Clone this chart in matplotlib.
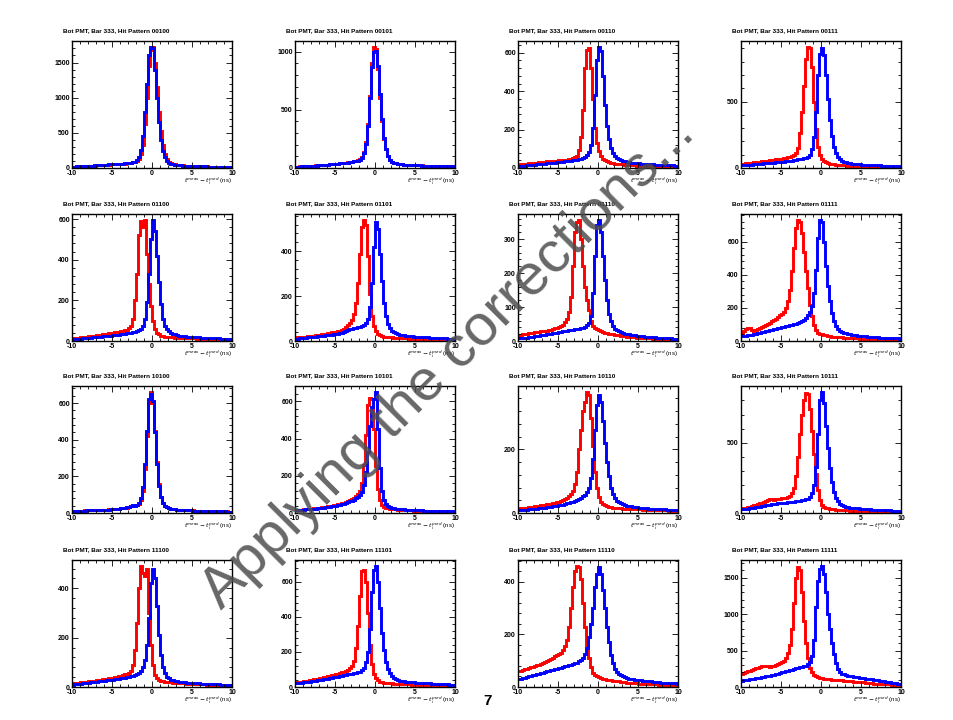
import numpy as np
import matplotlib
matplotlib.use("Agg")
import matplotlib.pyplot as plt
from matplotlib.ticker import MultipleLocator, AutoMinorLocator, FixedLocator

# t_meas - t_pred histograms, 0.25 ns bins from -10 to 10 ns (80 bins)
# red: before the correction, blue: after it
patterns = ["00100", "00101", "00110", "00111",
            "01100", "01101", "01110", "01111",
            "10100", "10101", "10110", "10111",
            "11100", "11101", "11110", "11111"]

yticks = [[0, 500, 1000, 1500], [0, 500, 1000], [0, 200, 400, 600], [0, 500],
          [0, 200, 400, 600], [0, 200, 400], [0, 100, 200, 300], [0, 200, 400, 600],
          [0, 200, 400, 600], [0, 200, 400, 600], [0, 200, 400], [0, 500],
          [0, 200, 400], [0, 200, 400, 600], [0, 200, 400], [0, 500, 1000, 1500]]

red_00100 = [19, 21, 22, 23, 24, 26, 27, 29, 30, 33, 34, 35, 37, 39, 40, 43, 45, 47, 48, 50,
             51, 53, 55, 56, 58, 60, 63, 66, 70, 74, 80, 88, 100, 130, 200, 330, 620, 1000, 1450, 1680,
             1720, 1500, 1150, 800, 520, 330, 200, 130, 90, 70, 58, 50, 46, 42, 39, 36, 34, 32, 30, 29,
             28, 27, 26, 25, 25, 24, 23, 22, 21, 21, 20, 19, 19, 18, 17, 17, 16, 16, 15, 15]
blue_00100 = [19, 20, 22, 24, 25, 27, 28, 30, 32, 33, 35, 37, 38, 40, 42, 44, 46, 48, 50, 52,
              53, 55, 57, 59, 61, 63, 66, 69, 73, 78, 84, 92, 110, 150, 260, 450, 800, 1200, 1600, 1720,
              1700, 1400, 1000, 650, 400, 240, 150, 100, 75, 62, 54, 48, 44, 40, 37, 35, 33, 31, 29, 28,
              27, 26, 25, 24, 23, 23, 22, 21, 20, 20, 19, 18, 18, 17, 17, 16, 15, 15, 14, 14]

red_00101 = [11, 12, 13, 14, 15, 16, 17, 18, 19, 21, 22, 23, 24, 26, 27, 29, 30, 32, 34, 36,
             37, 38, 40, 42, 44, 46, 49, 52, 55, 58, 62, 66, 75, 95, 140, 220, 380, 620, 900, 1040,
             1020, 850, 600, 400, 250, 160, 100, 70, 52, 45, 40, 37, 34, 32, 30, 28, 27, 26, 25, 24,
             24, 23, 23, 22, 21, 21, 20, 19, 19, 18, 17, 17, 16, 16, 15, 15, 14, 14, 13, 13]
blue_00101 = [10, 11, 12, 13, 14, 15, 16, 17, 18, 20, 21, 22, 24, 25, 27, 28, 30, 31, 33, 35,
              36, 37, 39, 41, 43, 45, 47, 50, 53, 56, 60, 64, 72, 90, 130, 210, 360, 600, 870, 1000,
              1010, 880, 640, 420, 260, 160, 100, 70, 52, 44, 39, 36, 33, 31, 29, 28, 27, 26, 25, 24,
              23, 22, 22, 21, 20, 20, 19, 18, 18, 17, 17, 16, 16, 15, 15, 14, 14, 13, 13, 12]

red_00110 = [18, 19, 20, 21, 23, 24, 25, 26, 27, 28, 30, 31, 32, 33, 34, 35, 36, 37, 38, 39,
             40, 41, 42, 43, 44, 46, 48, 50, 55, 65, 95, 160, 300, 520, 615, 625, 520, 360, 210, 130,
             90, 65, 48, 40, 34, 30, 27, 25, 23, 22, 21, 20, 19, 18, 17, 16, 15, 14, 14, 13,
             13, 12, 12, 12, 11, 11, 11, 10, 10, 10, 10, 9, 9, 9, 9, 8, 8, 8, 8, 8]
blue_00110 = [10, 11, 12, 13, 14, 15, 16, 17, 18, 19, 20, 21, 22, 23, 24, 25, 26, 27, 28, 29,
              30, 31, 32, 34, 35, 37, 38, 40, 42, 44, 46, 48, 52, 58, 66, 85, 120, 210, 380, 560,
              630, 610, 480, 330, 220, 150, 105, 78, 62, 54, 48, 43, 38, 35, 32, 30, 28, 27, 26, 25,
              24, 23, 22, 21, 21, 20, 19, 19, 18, 18, 17, 17, 16, 16, 15, 15, 14, 14, 13, 13]

red_00111 = [30, 32, 34, 36, 38, 40, 42, 44, 46, 48, 50, 52, 54, 56, 58, 60, 62, 64, 66, 68,
             71, 74, 77, 80, 84, 88, 95, 110, 150, 260, 420, 620, 820, 910, 900, 760, 500, 290, 160, 100,
             70, 52, 42, 36, 32, 29, 27, 25, 23, 22, 21, 20, 19, 18, 17, 16, 15, 14, 14, 13,
             13, 12, 12, 12, 11, 11, 11, 10, 10, 10, 10, 9, 9, 9, 9, 8, 8, 8, 8, 8]
blue_00111 = [20, 21, 22, 24, 25, 26, 28, 29, 30, 32, 33, 34, 36, 37, 38, 40, 41, 42, 44, 45,
              46, 48, 50, 52, 54, 56, 58, 61, 64, 67, 70, 73, 78, 85, 100, 140, 230, 420, 700, 860,
              905, 850, 700, 520, 360, 240, 160, 115, 85, 68, 56, 48, 43, 39, 36, 33, 31, 29, 28, 27,
              26, 25, 24, 23, 22, 22, 21, 20, 20, 19, 18, 18, 17, 17, 16, 16, 15, 15, 14, 14]

red_01100 = [14, 15, 16, 17, 18, 19, 20, 22, 23, 24, 26, 27, 28, 30, 31, 33, 34, 36, 37, 39,
             40, 42, 44, 46, 48, 50, 53, 56, 62, 75, 110, 200, 330, 520, 590, 560, 595, 430, 280, 170,
             100, 60, 40, 32, 27, 24, 22, 21, 20, 19, 18, 17, 17, 16, 16, 15, 15, 14, 14, 13,
             13, 13, 12, 12, 12, 11, 11, 11, 10, 10, 10, 10, 9, 9, 9, 9, 9, 8, 8, 8]
blue_01100 = [8, 9, 10, 11, 12, 13, 14, 15, 16, 17, 18, 19, 20, 21, 22, 23, 24, 25, 26, 27,
              28, 29, 30, 31, 32, 34, 35, 37, 38, 40, 42, 44, 47, 52, 60, 75, 110, 190, 330, 500,
              595, 540, 420, 290, 180, 110, 75, 58, 48, 41, 36, 32, 29, 27, 25, 24, 23, 22, 21, 20,
              19, 19, 18, 18, 17, 17, 16, 16, 15, 15, 14, 14, 13, 13, 12, 12, 12, 11, 11, 11]

red_01101 = [15, 16, 17, 18, 19, 20, 21, 22, 23, 24, 26, 27, 28, 30, 31, 33, 34, 36, 38, 39,
             41, 43, 46, 50, 55, 62, 70, 80, 95, 120, 170, 260, 390, 510, 540, 520, 380, 210, 110, 65,
             45, 32, 26, 22, 20, 19, 18, 17, 16, 15, 15, 14, 14, 13, 13, 12, 12, 11, 11, 11,
             10, 10, 10, 10, 9, 9, 9, 9, 8, 8, 8, 8, 8, 7, 7, 7, 7, 7, 7, 7]
blue_01101 = [10, 11, 12, 13, 14, 15, 16, 17, 18, 19, 20, 21, 22, 23, 24, 25, 26, 27, 28, 30,
              31, 33, 35, 37, 40, 44, 48, 52, 54, 56, 58, 61, 64, 68, 72, 80, 100, 150, 260, 420,
              530, 500, 390, 270, 170, 110, 75, 58, 45, 38, 34, 31, 28, 26, 25, 24, 23, 22, 21, 20,
              19, 18, 18, 17, 17, 16, 16, 15, 15, 14, 14, 13, 13, 12, 12, 12, 11, 11, 10, 10]

red_01110 = [16, 18, 20, 21, 22, 23, 24, 25, 26, 27, 27, 28, 28, 29, 30, 31, 33, 35, 37, 39,
             41, 44, 48, 55, 65, 85, 130, 220, 320, 350, 356, 300, 220, 160, 120, 90, 60, 45, 38, 34,
             31, 29, 27, 25, 23, 22, 21, 20, 19, 18, 17, 16, 15, 14, 13, 12, 12, 11, 11, 10,
             10, 9, 9, 9, 8, 8, 8, 7, 7, 7, 7, 6, 6, 6, 6, 6, 5, 5, 5, 5]
blue_01110 = [8, 8, 9, 9, 10, 11, 12, 13, 14, 15, 16, 17, 18, 19, 20, 21, 22, 23, 24, 25,
              26, 27, 28, 29, 30, 31, 32, 33, 34, 35, 36, 37, 39, 42, 46, 52, 75, 140, 250, 340,
              356, 320, 250, 180, 120, 80, 58, 45, 36, 31, 28, 26, 24, 22, 21, 20, 19, 18, 17, 16,
              15, 14, 14, 13, 13, 12, 12, 11, 11, 10, 10, 9, 9, 9, 8, 8, 8, 7, 7, 7]

red_01111 = [50, 58, 70, 80, 76, 66, 60, 64, 72, 78, 84, 90, 96, 104, 110, 118, 125, 135, 145, 155,
             165, 178, 200, 240, 310, 420, 560, 680, 730, 720, 650, 540, 420, 320, 220, 150, 95, 65, 50, 44,
             40, 37, 34, 31, 29, 27, 26, 25, 24, 23, 22, 21, 20, 19, 18, 18, 17, 16, 16, 15,
             15, 14, 14, 13, 13, 12, 12, 11, 11, 11, 10, 10, 10, 9, 9, 9, 9, 8, 8, 8]
blue_01111 = [30, 31, 33, 35, 37, 39, 41, 43, 46, 49, 52, 55, 58, 61, 64, 67, 70, 73, 76, 79,
              82, 85, 88, 91, 94, 97, 100, 103, 108, 114, 120, 128, 140, 155, 175, 210, 290, 430, 620, 730,
              720, 600, 450, 330, 240, 170, 120, 90, 72, 62, 55, 50, 46, 43, 40, 38, 36, 34, 33, 32,
              30, 29, 28, 27, 26, 25, 24, 23, 22, 21, 20, 20, 19, 18, 18, 17, 17, 16, 16, 15]

red_10100 = [10, 11, 11, 12, 13, 13, 14, 14, 15, 15, 16, 16, 17, 17, 18, 18, 19, 19, 20, 20,
             21, 22, 23, 24, 25, 26, 28, 30, 33, 37, 40, 38, 42, 50, 70, 120, 240, 420, 600, 660,
             600, 450, 280, 160, 90, 55, 40, 32, 27, 24, 22, 20, 19, 18, 17, 16, 16, 15, 15, 14,
             14, 13, 13, 13, 12, 12, 12, 11, 11, 11, 10, 10, 10, 10, 9, 9, 9, 9, 8, 8]
blue_10100 = [9, 10, 11, 11, 12, 12, 13, 14, 14, 15, 15, 16, 16, 17, 17, 18, 18, 19, 19, 20,
              21, 22, 23, 24, 25, 27, 29, 31, 34, 38, 41, 40, 45, 55, 80, 140, 270, 450, 620, 650,
              610, 440, 270, 150, 85, 52, 38, 31, 26, 23, 21, 20, 19, 18, 17, 16, 15, 15, 14, 14,
              13, 13, 13, 12, 12, 12, 11, 11, 11, 10, 10, 10, 10, 9, 9, 9, 9, 8, 8, 8]

red_10101 = [15, 16, 17, 18, 19, 20, 21, 22, 24, 25, 26, 27, 28, 30, 31, 33, 35, 37, 39, 41,
             43, 46, 49, 52, 56, 60, 65, 70, 76, 83, 90, 100, 120, 160, 260, 420, 580, 620, 610, 450,
             250, 130, 70, 45, 33, 28, 25, 23, 21, 20, 19, 18, 17, 16, 16, 15, 15, 14, 14, 13,
             13, 13, 12, 12, 12, 11, 11, 11, 10, 10, 10, 10, 9, 9, 9, 9, 8, 8, 8, 8]
blue_10101 = [14, 15, 16, 17, 18, 19, 20, 21, 22, 23, 24, 25, 26, 28, 29, 31, 32, 34, 36, 38,
              40, 42, 45, 48, 51, 54, 58, 62, 67, 72, 78, 85, 95, 115, 150, 220, 330, 470, 570, 610,
              650, 450, 240, 120, 70, 48, 38, 32, 28, 25, 23, 22, 21, 20, 19, 18, 17, 17, 16, 16,
              15, 15, 14, 14, 13, 13, 13, 12, 12, 12, 11, 11, 11, 10, 10, 10, 10, 9, 9, 9]

red_10110 = [14, 15, 15, 16, 17, 18, 19, 20, 21, 22, 23, 24, 25, 26, 27, 28, 29, 31, 32, 33,
             35, 37, 40, 44, 48, 54, 60, 70, 90, 130, 200, 260, 320, 350, 380, 370, 300, 210, 130, 80,
             50, 35, 28, 24, 21, 19, 18, 17, 16, 16, 15, 15, 14, 14, 13, 13, 12, 12, 12, 11,
             11, 11, 10, 10, 10, 10, 9, 9, 9, 9, 8, 8, 8, 8, 8, 7, 7, 7, 7, 7]
blue_10110 = [8, 8, 9, 10, 10, 11, 12, 13, 13, 14, 15, 16, 17, 17, 18, 19, 20, 21, 22, 23,
              24, 25, 26, 28, 30, 32, 34, 36, 38, 41, 44, 48, 52, 58, 66, 80, 110, 170, 260, 340,
              370, 350, 290, 220, 160, 115, 80, 60, 46, 39, 34, 30, 27, 25, 23, 22, 21, 20, 19, 18,
              17, 17, 16, 15, 15, 14, 14, 13, 13, 12, 12, 11, 11, 11, 10, 10, 10, 9, 9, 9]

red_10111 = [30, 34, 38, 42, 46, 50, 55, 60, 65, 70, 74, 78, 85, 95, 102, 98, 94, 97, 100, 102,
             104, 106, 108, 112, 120, 140, 180, 260, 400, 560, 700, 800, 850, 845, 740, 580, 420, 280, 160, 95,
             60, 45, 38, 34, 31, 28, 26, 24, 23, 22, 21, 20, 19, 18, 17, 17, 16, 16, 15, 15,
             14, 14, 13, 13, 13, 12, 12, 12, 11, 11, 11, 10, 10, 10, 10, 9, 9, 9, 9, 9]
blue_10111 = [25, 27, 29, 31, 33, 35, 38, 40, 43, 46, 49, 52, 55, 58, 60, 63, 65, 67, 69, 70,
              71, 72, 74, 75, 77, 78, 80, 82, 84, 86, 89, 92, 97, 103, 115, 140, 200, 330, 560, 800,
              860, 780, 620, 460, 320, 220, 150, 110, 82, 66, 56, 50, 46, 42, 39, 37, 35, 33, 32, 31,
              29, 28, 27, 26, 25, 24, 23, 22, 21, 21, 20, 19, 19, 18, 18, 17, 17, 16, 16, 15]

red_11100 = [15, 16, 17, 18, 19, 20, 21, 22, 23, 24, 25, 26, 27, 28, 30, 31, 32, 34, 35, 37,
             38, 40, 42, 44, 46, 48, 51, 54, 58, 65, 90, 150, 260, 400, 490, 460, 450, 480, 300, 170,
             90, 50, 35, 29, 25, 23, 22, 21, 20, 19, 18, 17, 17, 16, 16, 15, 15, 14, 14, 13,
             13, 13, 12, 12, 11, 11, 11, 10, 10, 10, 10, 9, 9, 9, 9, 8, 8, 8, 8, 8]
blue_11100 = [10, 11, 12, 13, 14, 15, 16, 17, 18, 19, 20, 21, 22, 23, 24, 25, 26, 27, 28, 29,
              30, 31, 32, 33, 35, 36, 38, 40, 42, 44, 46, 48, 52, 58, 66, 80, 110, 170, 280, 420,
              480, 440, 330, 210, 130, 80, 55, 42, 35, 30, 27, 25, 23, 22, 21, 20, 19, 18, 17, 17,
              16, 16, 15, 15, 14, 14, 13, 13, 12, 12, 12, 11, 11, 11, 10, 10, 10, 9, 9, 9]

red_11101 = [25, 27, 29, 31, 33, 35, 37, 39, 41, 43, 45, 47, 49, 52, 55, 58, 61, 64, 67, 70,
             73, 76, 80, 84, 88, 92, 98, 106, 120, 150, 220, 350, 520, 660, 670, 600, 420, 240, 130, 75,
             50, 38, 31, 27, 25, 23, 22, 21, 20, 19, 18, 18, 17, 17, 16, 16, 15, 15, 14, 14,
             14, 13, 13, 12, 12, 12, 11, 11, 11, 10, 10, 10, 10, 9, 9, 9, 9, 8, 8, 8]
blue_11101 = [20, 21, 23, 24, 26, 27, 29, 30, 32, 34, 36, 38, 40, 42, 44, 46, 48, 50, 52, 55,
              57, 59, 62, 64, 67, 70, 72, 75, 77, 80, 82, 85, 88, 95, 110, 140, 200, 330, 540, 670,
              690, 600, 450, 310, 210, 140, 100, 78, 60, 50, 44, 40, 37, 34, 32, 30, 29, 28, 27, 26,
              25, 24, 23, 22, 22, 21, 20, 20, 19, 19, 18, 17, 17, 16, 16, 15, 15, 14, 14, 13]

red_11110 = [60, 62, 65, 67, 70, 72, 75, 77, 80, 82, 85, 88, 92, 95, 100, 104, 108, 112, 116, 120,
             124, 130, 140, 155, 180, 230, 300, 380, 440, 460, 455, 410, 320, 230, 160, 110, 75, 55, 45, 40,
             37, 34, 32, 30, 28, 27, 26, 24, 23, 22, 21, 20, 19, 18, 17, 16, 16, 15, 14, 14,
             13, 13, 12, 12, 11, 11, 11, 10, 10, 10, 9, 9, 9, 9, 8, 8, 8, 8, 7, 7]
blue_11110 = [30, 32, 34, 36, 38, 40, 42, 44, 46, 48, 50, 52, 55, 57, 60, 62, 64, 66, 68, 70,
              72, 74, 76, 78, 80, 82, 84, 87, 90, 93, 97, 102, 110, 125, 150, 190, 240, 300, 380, 430,
              455, 430, 370, 300, 230, 170, 120, 90, 70, 58, 50, 44, 40, 37, 34, 32, 30, 29, 28, 27,
              26, 25, 24, 23, 22, 21, 21, 20, 19, 18, 18, 17, 17, 16, 16, 15, 15, 14, 14, 13]

red_11111 = [185, 195, 205, 215, 225, 235, 245, 255, 265, 275, 282, 290, 290, 285, 280, 285, 295, 305, 315, 330,
             345, 360, 400, 470, 580, 800, 1150, 1500, 1650, 1600, 1300, 900, 600, 400, 260, 200, 170, 150, 135, 125,
             120, 115, 112, 108, 105, 102, 100, 98, 95, 92, 90, 88, 85, 82, 80, 78, 75, 73, 70, 68,
             65, 62, 58, 55, 52, 50, 48, 46, 44, 42, 40, 38, 37, 36, 35, 34, 33, 32, 31, 30]
blue_11111 = [85, 90, 95, 100, 105, 110, 115, 120, 125, 130, 135, 140, 145, 150, 155, 160, 168, 176, 184, 192,
              200, 208, 216, 224, 232, 240, 248, 255, 262, 270, 278, 286, 295, 310, 340, 420, 650, 1100, 1450, 1620,
              1660, 1550, 1300, 1000, 800, 600, 450, 330, 250, 210, 185, 172, 163, 156, 150, 145, 140, 136, 132, 128,
              124, 120, 116, 112, 108, 104, 100, 96, 92, 88, 84, 80, 75, 70, 65, 60, 55, 50, 46, 42]

red_hists = [red_00100, red_00101, red_00110, red_00111,
             red_01100, red_01101, red_01110, red_01111,
             red_10100, red_10101, red_10110, red_10111,
             red_11100, red_11101, red_11110, red_11111]
blue_hists = [blue_00100, blue_00101, blue_00110, blue_00111,
              blue_01100, blue_01101, blue_01110, blue_01111,
              blue_10100, blue_10101, blue_10110, blue_10111,
              blue_11100, blue_11101, blue_11110, blue_11111]

edges = np.linspace(-10, 10, 81)

W, H = 954, 720
fig = plt.figure(figsize=(W / 100, H / 100), dpi=100)
fig.patch.set_facecolor("white")

col_left = [72, 295, 518, 741]      # pixel positions of the pads
row_top = [41, 214, 386, 560]
pad_w, pad_h = 160, 127

for k, pat in enumerate(patterns):
    r, c = divmod(k, 4)
    x0, y0 = col_left[c], row_top[r]
    ax = fig.add_axes([x0 / W, 1 - (y0 + pad_h) / H, pad_w / W, pad_h / H])
    red = np.array(red_hists[k])
    blue = np.array(blue_hists[k])
    ax.stairs(red, edges, color="#ff0000", lw=2.1, baseline=None)
    ax.stairs(blue, edges, color="#0000ff", lw=2.1, baseline=None)
    ax.set_xlim(-10, 10)
    ax.set_ylim(0, 1.05 * max(red.max(), blue.max()))

    ax.xaxis.set_major_locator(FixedLocator([-10, -5, 0, 5, 10]))
    ax.xaxis.set_minor_locator(MultipleLocator(1))
    ax.set_xticklabels(["-10", "-5", "0", "5", "10"])
    ax.yaxis.set_major_locator(FixedLocator(yticks[k]))
    ax.yaxis.set_minor_locator(AutoMinorLocator(5))
    ax.tick_params(which="both", direction="in", top=True, right=True,
                   labelsize=5, pad=1.5, width=0.6)
    ax.tick_params(which="major", length=4)
    ax.tick_params(which="minor", length=2)
    for lab in ax.get_xticklabels() + ax.get_yticklabels():
        lab.set_fontweight("bold")
        lab.set_family("Liberation Sans")
    for sp in ax.spines.values():
        sp.set_linewidth(1.0)

    ax.text(1.0, -0.06, r"$t^{meas}-t_{i}^{pred}$ (ns)", transform=ax.transAxes,
            ha="right", va="top", fontsize=4.3, family="Liberation Sans")

    fig.text((x0 - 9) / W, 1 - (y0 - 10) / H, "Bot PMT, Bar 333, Hit Pattern " + pat,
             ha="left", va="center", fontsize=4.6, fontweight="bold",
             family="Liberation Sans")

fig.text(448 / W, 1 - 362 / H, "Applying the corrections...", rotation=45,
         rotation_mode="anchor", ha="center", va="center", fontsize=42,
         color="0.3", alpha=0.85, family="Liberation Sans", zorder=10)

fig.text(488 / W, 1 - 701 / H, "7", ha="center", va="center", fontsize=11,
         fontweight="bold", family="Liberation Sans")

fig.savefig("out.png", dpi=100)
